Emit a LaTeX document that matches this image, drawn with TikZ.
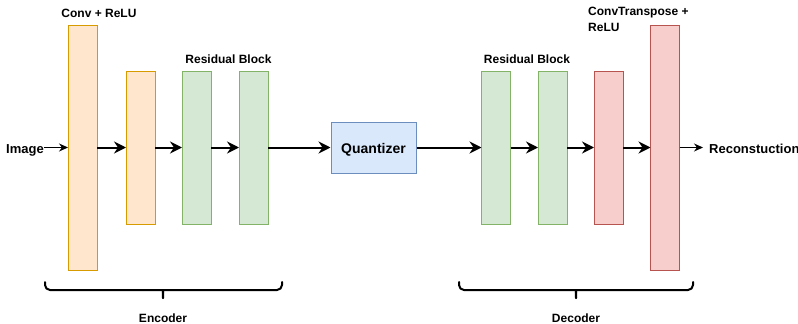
\documentclass[tikz,border=0pt]{standalone}
\usepackage{fontspec}
\setmainfont{Liberation Sans}
\usetikzlibrary{arrows.meta}

\definecolor{orangefill}{HTML}{FFE6CC}
\definecolor{orangeline}{HTML}{D79B00}
\definecolor{greenfill}{HTML}{D5E8D4}
\definecolor{greenline}{HTML}{82B366}
\definecolor{bluefill}{HTML}{DAE8FC}
\definecolor{blueline}{HTML}{6C8EBF}
\definecolor{redfill}{HTML}{F8CECC}
\definecolor{redline}{HTML}{B85450}

\tikzset{
  layer/.style={draw, line width=1pt, minimum width=29pt, inner sep=0pt, outer sep=0pt},
  convbox/.style={layer, fill=orangefill, draw=orangeline},
  resbox/.style={layer, fill=greenfill, draw=greenline},
  deconvbox/.style={layer, fill=redfill, draw=redline},
  tallbox/.style={minimum height=245pt},
  shortbox/.style={minimum height=153pt},
  quantbox/.style={draw=blueline, fill=bluefill, line width=1pt, minimum width=85pt, minimum height=51pt, inner sep=0pt},
  lbl/.style={font=\fontsize{12}{15.5}\selectfont\bfseries, inner sep=0pt},
  biglbl/.style={font=\fontsize{13}{15.5}\selectfont\bfseries, inner sep=0pt},
  flow/.style={line width=2pt, -{Stealth[length=12pt, width=12pt, inset=4pt]}},
  thinflow/.style={line width=1pt, -{Stealth[length=9pt, width=8pt, inset=3pt]}},
  bracket/.style={line width=2pt, line cap=round, line join=round, rounded corners=5pt},
}

\begin{document}
\begin{tikzpicture}[x=1pt, y=-1pt]
  \useasboundingbox (0,0) rectangle (798,324);

  % encoder
  \node[convbox, tallbox]  (c1) at (82.5,147.5) {};
  \node[convbox, shortbox] (c2) at (140.5,147.5) {};
  \node[resbox, shortbox]  (e1) at (196.5,147.5) {};
  \node[resbox, shortbox]  (e2) at (253.5,147.5) {};

  % quantizer
  \node[quantbox] (q) at (373.5,147.5) {};
  \node[font=\fontsize{14}{16}\selectfont\bfseries, inner sep=0pt, anchor=base] (qtxt) at (373.5,153) {Quantizer};

  % decoder
  \node[resbox, shortbox]    (d1) at (496,147.5) {};
  \node[resbox, shortbox]    (d2) at (552.5,147.5) {};
  \node[deconvbox, shortbox] (t1) at (608.5,147.5) {};
  \node[deconvbox, tallbox]  (t2) at (665,147.5) {};

  % input and output
  \node[biglbl, anchor=base east] (img) at (44,153) {Image};
  \node[biglbl, anchor=base west] (rec) at (709,153) {Reconstuction};

  % connectors
  \draw[thinflow] (img.east |- c1) -- (c1);
  \draw[flow] (c1) -- (c2);
  \draw[flow] (c2) -- (e1);
  \draw[flow] (e1) -- (e2);
  \draw[flow] (e2) -- (q);
  \draw[flow] (q) -- (d1);
  \draw[flow] (d1) -- (d2);
  \draw[flow] (d2) -- (t1);
  \draw[flow] (t1) -- (t2);
  \draw[thinflow] (t2) -- ([xshift=-6pt]t2 -| rec.west);

  % layer captions
  \node[lbl, anchor=base] (convcap) at (99,17) {Conv + ReLU};
  \node[lbl, anchor=base] (rescap1) at (228.5,63.5) {Residual Block};
  \node[lbl, anchor=base] (rescap2) at (527,63.5) {Residual Block};
  \node[lbl, anchor=north west, align=left] (tcap) at (588,7.3) {ConvTranspose +\\ReLU};

  % braces
  \coordinate (encL) at (45,282);
  \coordinate (encR) at (282,282);
  \coordinate (encT) at (163,298);
  \draw[bracket] (encL) |- (159,290) to[out=0, in=90] (encT);
  \draw[bracket] (encR) |- (167,290) to[out=180, in=90] (encT);
  \node[lbl, anchor=base] (enc) at (163,322.5) {Encoder};

  \coordinate (decL) at (459,282);
  \coordinate (decR) at (693,282);
  \coordinate (decT) at (576,298);
  \draw[bracket] (decL) |- (572,290) to[out=0, in=90] (decT);
  \draw[bracket] (decR) |- (580,290) to[out=180, in=90] (decT);
  \node[lbl, anchor=base] (dec) at (576,322.5) {Decoder};
\end{tikzpicture}
\end{document}
